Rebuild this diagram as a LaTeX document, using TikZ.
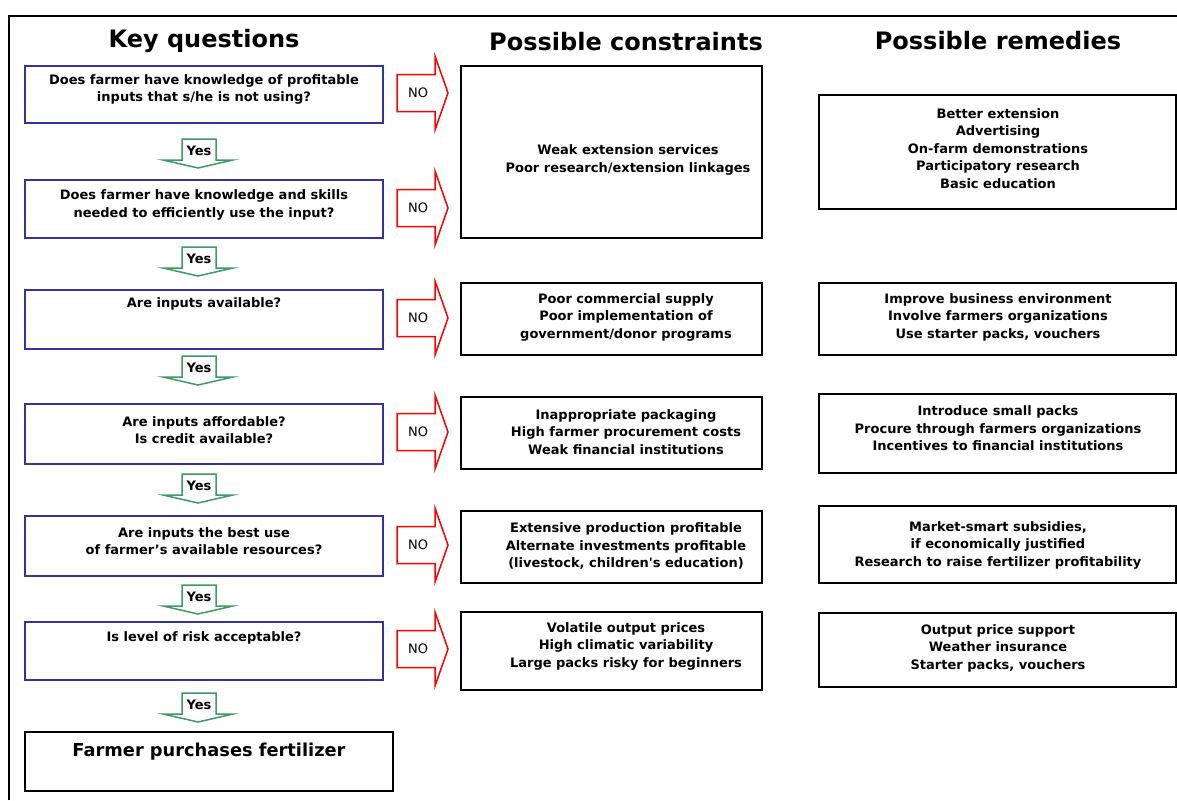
\documentclass[tikz,border=0pt]{standalone}
\usepackage{fontspec}
\setmainfont{DejaVu Sans}
\definecolor{qblue}{RGB}{51,51,153}
\definecolor{yesgreen}{RGB}{60,155,100}
\definecolor{nored}{RGB}{255,0,0}
\newcommand{\myNoArrow}[2]{%
  \draw[noarr] (397,#1-18.5) -- (435,#1-18.5) -- (435,#1-37) -- (448,#1) -- (435,#1+37) -- (435,#1+18.5) -- (397,#1+18.5) -- cycle;
  \node[lbl] (#2) at (418,#1) {NO};}
\newcommand{\myYesArrow}[2]{%
  \draw[yesarr] (182,#1) -- (216,#1) -- (216,#1+21) -- (233,#1+21) -- (198,#1+29) -- (163,#1+21) -- (182,#1+21) -- cycle;
  \node[lbl,font=\bfseries\fontsize{13}{15}\selectfont] (#2) at (199,#1+12) {Yes};}
\begin{document}
\begin{tikzpicture}[x=1pt,y=-1pt,
  txt/.style={align=center, inner sep=0pt, font=\bfseries\fontsize{13}{17.5}\selectfont},
  lbl/.style={inner sep=0pt, font=\fontsize{13}{15}\selectfont},
  title/.style={inner sep=0pt, font=\bfseries\fontsize{24}{28}\selectfont},
  qbox/.style={draw=qblue, line width=1.5pt, inner sep=0pt},
  kbox/.style={draw=black, line width=1.5pt, inner sep=0pt},
  noarr/.style={draw=nored, fill=white, line width=1.5pt, line join=miter},
  yesarr/.style={draw=yesgreen, fill=white, line width=1.5pt, line join=miter}]
\useasboundingbox (0,0) rectangle (1177,800);
\draw[line width=2pt] (9,800) -- (9,16) -- (1177,16);
% titles
\node[title] (t1) at (204,41) {Key questions};
\node[title] (t2) at (626,42) {Possible constraints};
\node[title] (t3) at (998,41) {Possible remedies};
% question boxes
\node[qbox, minimum width=358pt, minimum height=57pt] (q1) at (204,94.5) {};
\node[qbox, minimum width=358pt, minimum height=58pt] (q2) at (204,209) {};
\node[qbox, minimum width=358pt, minimum height=59pt] (q3) at (204,319.5) {};
\node[qbox, minimum width=358pt, minimum height=60pt] (q4) at (204,434) {};
\node[qbox, minimum width=358pt, minimum height=60pt] (q5) at (204,546) {};
\node[qbox, minimum width=358pt, minimum height=58pt] (q6) at (204,651) {};
\node[kbox, minimum width=368pt, minimum height=59pt] (fin) at (209,761.5) {};
\node[txt] (q1t) at (204,89.5) {Does farmer have knowledge of profitable\\inputs that s/he is not using?};
\node[txt] (q2t) at (204,205) {Does farmer have knowledge and skills\\needed to efficiently use the input?};
\node[txt] (q3t) at (204,304) {Are inputs available?};
\node[txt] (q4t) at (204,430) {Are inputs affordable?\\Is credit available?};
\node[txt] (q5t) at (204,541) {Are inputs the best use\\of farmer’s available resources?};
\node[txt] (q6t) at (204,638) {Is level of risk acceptable?};
\node[txt, font=\bfseries\fontsize{17.8}{20}\selectfont] (fint) at (209,752) {Farmer purchases fertilizer};
% constraint boxes
\node[kbox, minimum width=301pt, minimum height=172pt] (c1) at (611.5,152) {};
\node[kbox, minimum width=301pt, minimum height=72pt] (c2) at (611.5,319) {};
\node[kbox, minimum width=301pt, minimum height=72pt] (c3) at (611.5,433) {};
\node[kbox, minimum width=301pt, minimum height=72pt] (c4) at (611.5,547) {};
\node[kbox, minimum width=301pt, minimum height=78pt] (c5) at (611.5,651) {};
\node[txt] (c1t) at (628,160) {Weak extension services\\Poor research/extension linkages};
\node[txt] (c2t) at (626,317) {Poor commercial supply\\Poor implementation of\\government/donor programs};
\node[txt] (c3t) at (626,432) {Inappropriate packaging\\High farmer procurement costs\\Weak financial institutions};
\node[txt] (c4t) at (626,546) {Extensive production profitable\\Alternate investments profitable\\(livestock, children\textquotesingle s education)};
\node[txt] (c5t) at (626,646) {Volatile output prices\\High climatic variability\\Large packs risky for beginners};
% remedy boxes
\node[kbox, minimum width=357pt, minimum height=114pt] (r1) at (997.5,152) {};
\node[kbox, minimum width=357pt, minimum height=72pt] (r2) at (997.5,319) {};
\node[kbox, minimum width=357pt, minimum height=79pt] (r3) at (997.5,433.5) {};
\node[kbox, minimum width=357pt, minimum height=77pt] (r4) at (997.5,544.5) {};
\node[kbox, minimum width=357pt, minimum height=74pt] (r5) at (997.5,650) {};
\node[txt] (r1t) at (998,148.5) {Better extension\\Advertising\\On-farm demonstrations\\Participatory research\\Basic education};
\node[txt] (r2t) at (998,317) {Improve business environment\\Involve farmers organizations\\Use starter packs, vouchers};
\node[txt] (r3t) at (998,428.5) {Introduce small packs\\Procure through farmers organizations\\Incentives to financial institutions};
\node[txt] (r4t) at (998,545) {Market-smart subsidies,\\if economically justified\\Research to raise fertilizer profitability};
\node[txt] (r5t) at (998,648) {Output price support\\Weather insurance\\Starter packs, vouchers};
% NO arrows
\myNoArrow{93}{no1}
\myNoArrow{208}{no2}
\myNoArrow{318}{no3}
\myNoArrow{432}{no4}
\myNoArrow{545}{no5}
\myNoArrow{649}{no6}
% Yes arrows
\myYesArrow{139}{y1}
\myYesArrow{247}{y2}
\myYesArrow{356}{y3}
\myYesArrow{474}{y4}
\myYesArrow{585}{y5}
\myYesArrow{693}{y6}
\end{tikzpicture}
\end{document}
